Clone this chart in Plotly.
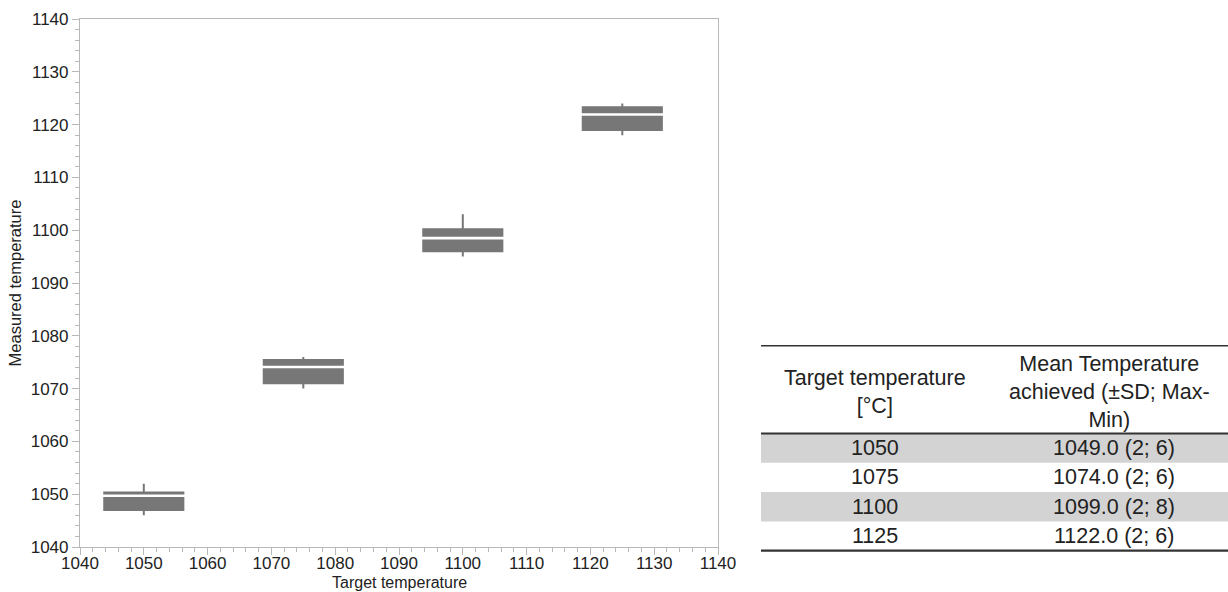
import plotly.graph_objects as go

# ---------------- data ----------------
targets = [1050, 1075, 1100, 1125]
lower_whisker = [1046.0, 1070.0, 1095.0, 1118.0]
q1_vals = [1047.0, 1071.0, 1096.0, 1119.0]
median_vals = [1049.7, 1074.1, 1098.5, 1121.9]
q3_vals = [1050.3, 1075.4, 1100.2, 1123.3]
upper_whisker = [1052.0, 1076.0, 1103.0, 1124.0]

x_ticks = [1040, 1050, 1060, 1070, 1080, 1090, 1100, 1110, 1120, 1130, 1140]
y_ticks = [1040, 1050, 1060, 1070, 1080, 1090, 1100, 1110, 1120, 1130, 1140]

x_title = "Target temperature"
y_title = "Measured temperature"

table_header = ["Target temperature<br>[°C]", "Mean Temperature<br>achieved (±SD; Max-<br>Min)"]
table_targets = ["1050", "1075", "1100", "1125"]
table_means = ["1049.0 (2; 6)", "1074.0 (2; 6)", "1099.0 (2; 8)", "1122.0 (2; 6)"]
table_shaded = [True, False, True, False]

# ---------------- style / layout ----------------
W, H = 1228, 592
ML, MR, MT, MB = 80, 0, 19, 45
PLOT_W_PX = 638
PAPER_W = W - ML - MR
PAPER_H = H - MT - MB
BOX_WIDTH = 12.4
BOX_GRAY = "#777777"
AXIS_GRAY = "#b8b8b8"
TEXT = "#222222"
FONT = "Liberation Sans, Arial, sans-serif"


def px_x(px):
    return (px - ML) / PAPER_W


def px_y(py):
    return (MT + PAPER_H - py) / PAPER_H


fig = go.Figure()

fig.add_trace(go.Box(
    x=targets,
    q1=q1_vals,
    median=median_vals,
    q3=q3_vals,
    lowerfence=lower_whisker,
    upperfence=upper_whisker,
    width=BOX_WIDTH,
    whiskerwidth=0,
    fillcolor=BOX_GRAY,
    line=dict(color=BOX_GRAY, width=2),
    boxpoints=False,
    showlegend=False,
    hoverinfo="skip",
))

# white median gaps
mx, my = [], []
for t, m in zip(targets, median_vals):
    mx += [t - BOX_WIDTH / 2 - 0.3, t + BOX_WIDTH / 2 + 0.3, None]
    my += [m, m, None]
fig.add_trace(go.Scatter(
    x=mx, y=my, mode="lines",
    line=dict(color="white", width=2.6),
    showlegend=False, hoverinfo="skip",
))

axis_common = dict(
    showline=True, linecolor=AXIS_GRAY, linewidth=1.2, mirror=True,
    ticks="outside", ticklen=7, tickwidth=1.2, tickcolor=AXIS_GRAY,
    showgrid=False, zeroline=False,
    tickfont=dict(family=FONT, size=17, color=TEXT),
    minor=dict(ticks="outside", dtick=2, ticklen=4, tickwidth=1, tickcolor=AXIS_GRAY),
    dtick=10,
    automargin=False,
)

fig.update_xaxes(
    range=[1040, 1140], domain=[0, PLOT_W_PX / PAPER_W],
    tickvals=x_ticks,
    ticklabelstandoff=-7,
    **axis_common,
)
fig.update_yaxes(
    range=[1040, 1140],
    tickvals=y_ticks,
    title=dict(text=y_title, font=dict(family=FONT, size=16.5, color=TEXT), standoff=4),
    **axis_common,
)

# ---------------- table ----------------
T_LEFT, T_RIGHT = 761, 1228
T_TOP, T_HEAD_BOTTOM, ROW_H = 345.7, 433.5, 29.3
COL1_X, COL2_X, COL2_HEAD_X = 875, 1114, 1109
TABLE_FONT = dict(family=FONT, size=21.5, color=TEXT)

shapes = []
for i, shaded in enumerate(table_shaded):
    if shaded:
        y0 = T_HEAD_BOTTOM + i * ROW_H
        shapes.append(dict(type="rect", xref="paper", yref="paper",
                           x0=px_x(T_LEFT), x1=px_x(T_RIGHT),
                           y0=px_y(y0), y1=px_y(y0 + ROW_H),
                           fillcolor="#d3d3d3", line=dict(width=0), layer="above"))
bottom_y = T_HEAD_BOTTOM + len(table_targets) * ROW_H
for yy, w in [(T_TOP, 1.6), (T_HEAD_BOTTOM, 2.2), (bottom_y, 2.2)]:
    shapes.append(dict(type="line", xref="paper", yref="paper",
                       x0=px_x(T_LEFT), x1=px_x(T_RIGHT), y0=px_y(yy), y1=px_y(yy),
                       line=dict(color="#333333", width=w), layer="above"))

annotations = []
# x-axis title (placed as annotation for precise vertical position)
annotations.append(dict(text=x_title, x=PLOT_W_PX / PAPER_W / 2, y=px_y(582.5), xref="paper", yref="paper",
                        xanchor="center", yanchor="middle", showarrow=False, borderpad=0,
                        font=dict(family=FONT, size=16, color=TEXT)))
head_center = (T_TOP + T_HEAD_BOTTOM) / 2 + 2
for txt, cx in zip(table_header, [COL1_X, COL2_HEAD_X]):
    annotations.append(dict(text=txt, x=px_x(cx), y=px_y(head_center), xref="paper", yref="paper",
                            xanchor="center", yanchor="middle", showarrow=False, align="center",
                            font=TABLE_FONT))
for i, (a, b) in enumerate(zip(table_targets, table_means)):
    cy = T_HEAD_BOTTOM + (i + 0.5) * ROW_H
    annotations.append(dict(text=a, x=px_x(COL1_X), y=px_y(cy), xref="paper", yref="paper",
                            xanchor="center", yanchor="middle", showarrow=False, font=TABLE_FONT))
    annotations.append(dict(text=b, x=px_x(COL2_X), y=px_y(cy), xref="paper", yref="paper",
                            xanchor="center", yanchor="middle", showarrow=False, font=TABLE_FONT))

fig.update_layout(
    width=W, height=H,
    margin=dict(l=ML, r=MR, t=MT, b=MB, pad=0),
    paper_bgcolor="white", plot_bgcolor="white",
    shapes=shapes, annotations=annotations,
    showlegend=False,
    font=dict(family=FONT, color=TEXT),
)

fig.write_html(
    "out.html",
    config={"displayModeBar": False},
    post_script="document.body.style.margin='0';document.body.style.overflow='hidden';",
)
